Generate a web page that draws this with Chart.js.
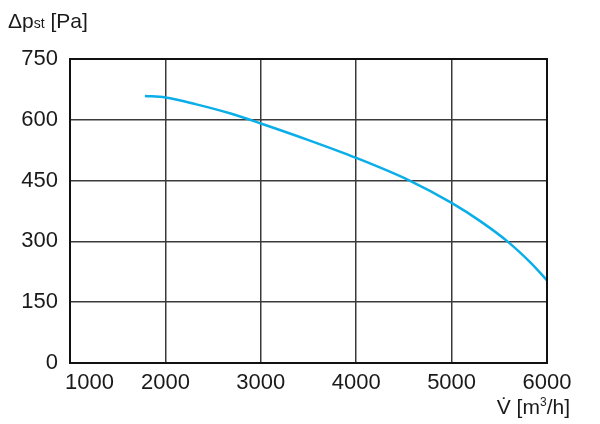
<!DOCTYPE html>
<html>
<head>
<meta charset="utf-8">
<script src="https://cdn.jsdelivr.net/npm/chart.js@4/dist/chart.umd.min.js"></script>
<style>
  html, body { margin: 0; padding: 0; background: #fff; }
  #wrap { position: relative; width: 600px; height: 424px; }
  #chart { position: absolute; left: 0; top: 0; }
  .ttl { position: absolute; font-family: "Liberation Sans Narrow", "Arial Narrow", "Liberation Sans", sans-serif; font-size: 21px; color: #1a1a1a; white-space: nowrap; line-height: 1; }
  .sub { font-size: 14px; }
  .sup { font-size: 12px; vertical-align: 8px; }
</style>
</head>
<body>
<div id="wrap">
  <canvas id="chart" width="600" height="424"></canvas>
  <div class="ttl" id="ytitle" style="left:8px; top:10px;">Δp<span class="sub">st</span> [Pa]</div>
  <div class="ttl" id="xtitle" style="right:30px; top:396px;">V̇ [m<span class="sup">3</span>/h]</div>
</div>
<script>
// ---- data ----
const flowRates = [1785, 2000, 2325, 2675, 3000, 3500, 4000, 4560, 5000, 5300, 5585, 5830, 6000];
const pressures = [659, 655, 638, 616, 591, 550, 506, 450, 395, 350, 300, 247, 204];
const xTicks = [1000, 2000, 3000, 4000, 5000, 6000];
const yTicks = [0, 150, 300, 450, 600, 750];

const FONT = "'Liberation Sans Narrow', 'Arial Narrow', 'Liberation Sans', sans-serif";
const points = flowRates.map((x, i) => ({ x: x, y: pressures[i] }));

const framePlugin = {
  id: 'frame',
  afterDraw(chart) {
    const { ctx, chartArea: a } = chart;
    ctx.save();
    ctx.strokeStyle = '#111';
    ctx.lineWidth = 2;
    ctx.strokeRect(a.left, a.top, a.right - a.left, a.bottom - a.top);
    // first x tick label, shifted right as in reference
    const xs = chart.scales.x;
    ctx.fillStyle = '#1a1a1a';
    ctx.font = '22px ' + FONT;
    ctx.textAlign = 'left';
    ctx.textBaseline = 'top';
    ctx.fillText(String(xTicks[0]), xs.getPixelForValue(xTicks[0]) - 5, a.bottom + 9);
    ctx.restore();
  }
};

new Chart(document.getElementById('chart'), {
  type: 'line',
  data: {
    datasets: [{
      data: points,
      borderColor: '#0aaee8',
      borderWidth: 2.5,
      pointRadius: 0,
      cubicInterpolationMode: 'monotone',
      fill: false
    }]
  },
  options: {
    responsive: false,
    animation: false,
    events: [],
    layout: { padding: { left: 0, top: 59, right: 53, bottom: 0 } },
    plugins: { legend: { display: false }, tooltip: { enabled: false } },
    scales: {
      x: {
        type: 'linear', min: 1000, max: 6000,
        afterBuildTicks(s) { s.ticks = xTicks.map(v => ({ value: v })); },
        afterFit(s) { s.height = 424 - 363; },
        grid: { color: '#3a3a3a', lineWidth: 1.5, drawTicks: false },
        border: { color: '#111', width: 2 },
        ticks: {
          font: { family: FONT, size: 22 }, color: '#1a1a1a', padding: 7,
          maxRotation: 0, autoSkip: false,
          callback: v => (v === xTicks[0] ? '' : String(v))
        }
      },
      y: {
        type: 'linear', min: 0, max: 750,
        afterBuildTicks(s) { s.ticks = yTicks.map(v => ({ value: v })); },
        afterFit(s) { s.width = 70; },
        grid: { color: '#3a3a3a', lineWidth: 1.5, drawTicks: false },
        border: { color: '#111', width: 2 },
        ticks: {
          font: { family: FONT, size: 22 }, color: '#1a1a1a', padding: 12,
          callback: v => String(v)
        }
      }
    }
  },
  plugins: [framePlugin]
});
</script>
</body>
</html>
